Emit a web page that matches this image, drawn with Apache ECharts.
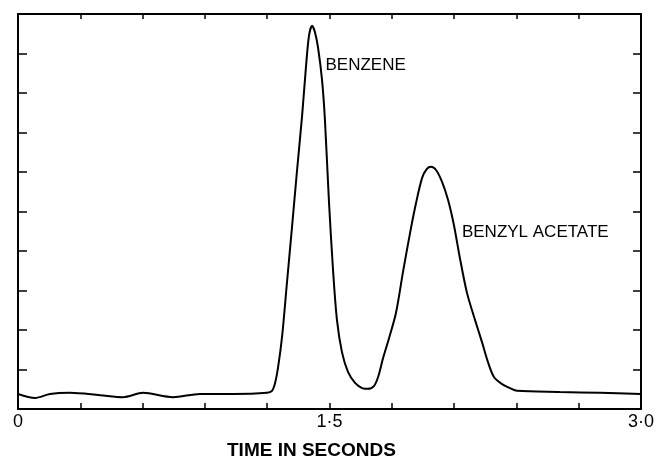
<!DOCTYPE html>
<html>
<head>
<meta charset="utf-8">
<script src="https://cdn.jsdelivr.net/npm/echarts@6/dist/echarts.min.js"></script>
<style>
  html, body { margin: 0; padding: 0; background: #fff; }
  #chart { width: 658px; height: 456px; }
</style>
</head>
<body>
<div id="chart"></div>
<script>
// detector trace: time (s) and signal (arbitrary units, 0-10)
var times = [0, 0.082, 0.154, 0.25, 0.395, 0.506, 0.602, 0.746, 0.876, 1.035, 1.199, 1.223,
  1.238, 1.252, 1.272, 1.295, 1.319, 1.343, 1.368, 1.387, 1.401, 1.416, 1.430, 1.445,
  1.464, 1.478, 1.497, 1.517, 1.536, 1.560, 1.589, 1.623, 1.657, 1.686, 1.714, 1.734,
  1.758, 1.787, 1.820, 1.854, 1.888, 1.917, 1.946, 1.969, 1.989, 2.013, 2.042, 2.071,
  2.099, 2.128, 2.162, 2.201, 2.234, 2.263, 2.292, 2.331, 2.369, 2.403, 2.610, 2.802, 3.0];
var signal = [0.38, 0.28, 0.38, 0.41, 0.35, 0.30, 0.41, 0.30, 0.38, 0.38, 0.41, 0.46,
  0.66, 1.04, 1.85, 3.19, 4.58, 6.00, 7.42, 8.68, 9.44, 9.70, 9.54, 9.14,
  8.33, 7.32, 5.29, 3.52, 2.25, 1.44, 0.94, 0.66, 0.53, 0.51, 0.58, 0.81,
  1.29, 1.80, 2.43, 3.47, 4.46, 5.22, 5.85, 6.08, 6.13, 6.05, 5.75, 5.29,
  4.66, 3.82, 2.94, 2.25, 1.70, 1.19, 0.81, 0.63, 0.53, 0.46, 0.43, 0.41, 0.38];

var tickValues = [0, 1.5, 3.0];
var tickLabels = ['0', '1·5', '3·0'];
var peakNames = ['BENZENE', 'BENZYL ACETATE'];

var trace = times.map(function (t, i) { return [t, signal[i]]; });

function xLabel(v) {
  for (var i = 0; i < tickValues.length; i++) {
    if (Math.abs(v - tickValues[i]) < 1e-6) return tickLabels[i];
  }
  return '';
}

var frame = { show: true, onZero: false, lineStyle: { color: '#000', width: 2 } };

var chart = echarts.init(document.getElementById('chart'));
chart.setOption({
  animation: false,
  backgroundColor: '#fff',
  title: {
    text: 'TIME IN SECONDS',
    left: 222, top: 436,
    textStyle: { fontFamily: 'Liberation Sans', fontSize: 19, fontWeight: 'bold', color: '#000' }
  },
  grid: { left: 18, right: 17, top: 14, bottom: 47 },
  xAxis: [{
    type: 'value', position: 'bottom', min: 0, max: 3, interval: 0.3,
    axisLine: frame,
    axisTick: { show: true, inside: true, length: 6, lineStyle: { color: '#000', width: 1.5 } },
    axisLabel: {
      formatter: xLabel, color: '#000', fontFamily: 'Liberation Sans',
      fontSize: 18, margin: 4, showMinLabel: true, showMaxLabel: true
    },
    splitLine: { show: false }
  }, {
    type: 'value', position: 'top', min: 0, max: 3, interval: 0.3,
    axisLine: frame,
    axisTick: { show: true, inside: true, length: 5, lineStyle: { color: '#000', width: 1.5 } },
    axisLabel: { show: false },
    splitLine: { show: false }
  }],
  yAxis: [{
    type: 'value', position: 'left', min: 0, max: 10, interval: 1,
    axisLine: frame,
    axisTick: { show: true, inside: true, length: 9, lineStyle: { color: '#000', width: 1.5 } },
    axisLabel: { show: false },
    splitLine: { show: false }
  }, {
    type: 'value', position: 'right', min: 0, max: 10, interval: 1,
    axisLine: frame,
    axisTick: { show: true, inside: true, length: 8, lineStyle: { color: '#000', width: 1.5 } },
    axisLabel: { show: false },
    splitLine: { show: false }
  }],
  series: [{
    type: 'line',
    data: trace,
    xAxisIndex: 0,
    yAxisIndex: 0,
    showSymbol: false,
    smooth: 0.3,
    lineStyle: { color: '#000', width: 2 },
    markPoint: {
      symbol: 'rect',
      symbolSize: 1,
      itemStyle: { color: 'rgba(0,0,0,0)' },
      label: {
        show: true, position: 'right', distance: 4, formatter: '{b}',
        color: '#000', fontFamily: 'Liberation Sans', fontSize: 17
      },
      data: [
        { name: peakNames[0], coord: [1.459, 8.71] },
        { name: peakNames[1], coord: [2.116, 4.48] }
      ]
    }
  }]
});
</script>
</body>
</html>
